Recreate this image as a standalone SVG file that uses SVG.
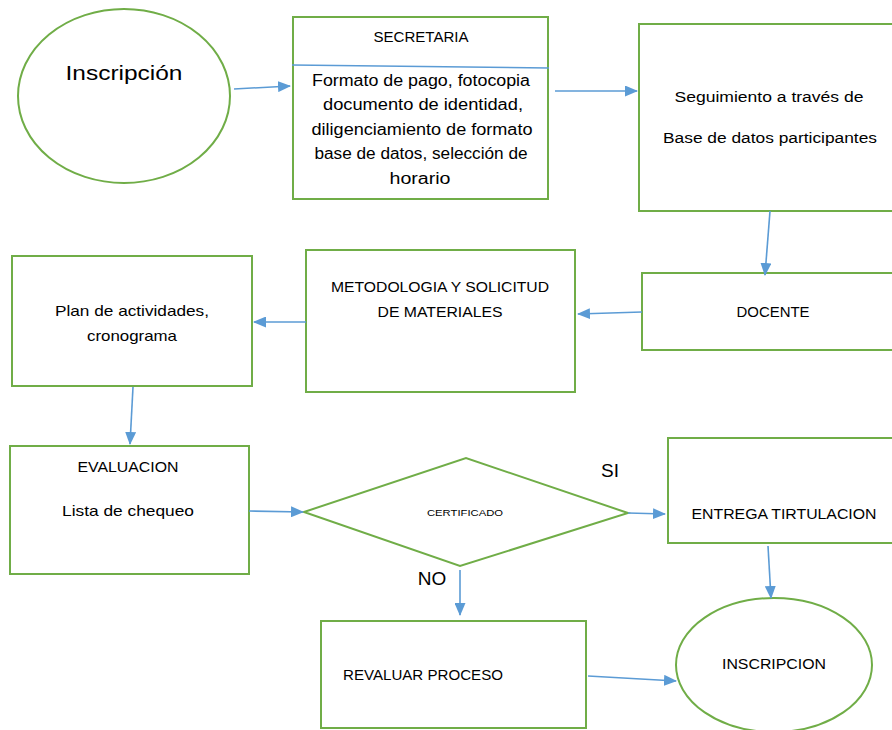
<svg xmlns="http://www.w3.org/2000/svg" width="892" height="730" viewBox="0 0 892 730">
<defs>
<style>
.n{fill:#fff;stroke:#70AD47;stroke-width:2}
.c{stroke:#5B9BD5;stroke-width:1.6;fill:none}
.t{font-family:"Liberation Sans",Arial,sans-serif;fill:#000;text-anchor:middle}
</style>
<marker id="ah" markerWidth="13" markerHeight="11" refX="12" refY="5.5" orient="auto" markerUnits="userSpaceOnUse">
<path d="M0,0 L13,5.5 L0,11 Z" fill="#5B9BD5"/>
</marker>
</defs>
<rect width="892" height="730" fill="#fff"/>
<g id="inscripcion1">
<ellipse class="n" cx="124" cy="96" rx="106" ry="87"/>
<text class="t" x="124" y="80" font-size="21" textLength="117" lengthAdjust="spacingAndGlyphs">Inscripción</text>
</g>
<g id="secretaria">
<rect class="n" x="293" y="17" width="255" height="182"/>
<line x1="292" y1="65" x2="549" y2="68" stroke="#5B9BD5" stroke-width="1.6"/>
<text class="t" x="421" y="42" font-size="14" textLength="95" lengthAdjust="spacingAndGlyphs">SECRETARIA</text>
<text class="t" x="421" y="86" font-size="16" textLength="218" lengthAdjust="spacingAndGlyphs">Formato de pago, fotocopia</text>
<text class="t" x="423" y="110" font-size="16" textLength="200" lengthAdjust="spacingAndGlyphs">documento de identidad,</text>
<text class="t" x="422" y="135" font-size="16" textLength="221" lengthAdjust="spacingAndGlyphs">diligenciamiento de formato</text>
<text class="t" x="421" y="159" font-size="16" textLength="213" lengthAdjust="spacingAndGlyphs">base de datos, selección de</text>
<text class="t" x="420" y="184" font-size="16" textLength="61" lengthAdjust="spacingAndGlyphs">horario</text>
</g>
<g id="seguimiento">
<rect class="n" x="639" y="24" width="256" height="187"/>
<text class="t" x="769" y="102" font-size="14" textLength="189" lengthAdjust="spacingAndGlyphs">Seguimiento a través de</text>
<text class="t" x="770" y="143" font-size="14" textLength="214" lengthAdjust="spacingAndGlyphs">Base de datos participantes</text>
</g>
<g id="docente">
<rect class="n" x="642" y="273" width="253" height="77"/>
<text class="t" x="773" y="317" font-size="14" textLength="73" lengthAdjust="spacingAndGlyphs">DOCENTE</text>
</g>
<g id="metodologia">
<rect class="n" x="306" y="250" width="269" height="142"/>
<text class="t" x="440" y="292" font-size="14" textLength="218" lengthAdjust="spacingAndGlyphs">METODOLOGIA Y SOLICITUD</text>
<text class="t" x="440" y="317" font-size="14" textLength="125" lengthAdjust="spacingAndGlyphs">DE MATERIALES</text>
</g>
<g id="plan">
<rect class="n" x="12" y="256" width="240" height="130"/>
<text class="t" x="132" y="316" font-size="15" textLength="154" lengthAdjust="spacingAndGlyphs">Plan de actividades,</text>
<text class="t" x="132" y="341" font-size="15" textLength="90" lengthAdjust="spacingAndGlyphs">cronograma</text>
</g>
<g id="evaluacion">
<rect class="n" x="10" y="446" width="239" height="128"/>
<text class="t" x="128" y="472" font-size="14" textLength="101" lengthAdjust="spacingAndGlyphs">EVALUACION</text>
<text class="t" x="128" y="516" font-size="15" textLength="132" lengthAdjust="spacingAndGlyphs">Lista de chequeo</text>
</g>
<g id="certificado">
<polygon class="n" points="304,512 466,458 628,513 460,566"/>
<text class="t" x="465" y="516" font-size="9.5" textLength="76" lengthAdjust="spacingAndGlyphs">CERTIFICADO</text>
</g>
<g id="entrega">
<rect class="n" x="668" y="438" width="227" height="105"/>
<text class="t" x="784" y="519" font-size="14" textLength="185" lengthAdjust="spacingAndGlyphs">ENTREGA TIRTULACION</text>
</g>
<g id="revaluar">
<rect class="n" x="321" y="621" width="265" height="107"/>
<text class="t" x="423" y="680" font-size="14" textLength="160" lengthAdjust="spacingAndGlyphs">REVALUAR PROCESO</text>
</g>
<g id="inscripcion2">
<ellipse class="n" cx="774" cy="665" rx="98" ry="67"/>
<text class="t" x="774" y="669" font-size="14" textLength="104" lengthAdjust="spacingAndGlyphs">INSCRIPCION</text>
</g>
<g id="labels">
<text class="t" x="610" y="477" font-size="19">SI</text>
<text class="t" x="432" y="585" font-size="19">NO</text>
</g>
<g id="connectors">
<line class="c" x1="234" y1="89" x2="290" y2="86" marker-end="url(#ah)"/>
<line class="c" x1="555" y1="91" x2="637" y2="91" marker-end="url(#ah)"/>
<line class="c" x1="770" y1="211" x2="765" y2="275" marker-end="url(#ah)"/>
<line class="c" x1="642" y1="312" x2="578" y2="314" marker-end="url(#ah)"/>
<line class="c" x1="306" y1="322" x2="254" y2="322" marker-end="url(#ah)"/>
<line class="c" x1="133" y1="387" x2="130" y2="444" marker-end="url(#ah)"/>
<line class="c" x1="249" y1="511" x2="303" y2="512" marker-end="url(#ah)"/>
<line class="c" x1="628" y1="513" x2="665" y2="514" marker-end="url(#ah)"/>
<line class="c" x1="768" y1="546" x2="771" y2="598" marker-end="url(#ah)"/>
<line class="c" x1="460" y1="570" x2="460" y2="615" marker-end="url(#ah)"/>
<line class="c" x1="588" y1="676" x2="676" y2="681" marker-end="url(#ah)"/>
</g>
</svg>
